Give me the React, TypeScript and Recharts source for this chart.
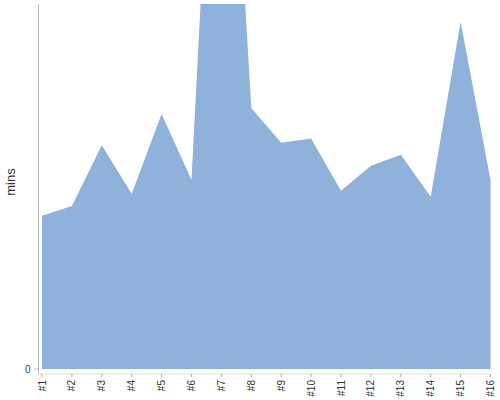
import { AreaChart, Area, XAxis, YAxis } from 'recharts'

const labels = ['#1', '#2', '#3', '#4', '#5', '#6', '#7', '#8', '#9', '#10', '#11', '#12', '#13', '#14', '#15', '#16']
const mins = [25.2, 26.8, 36.8, 28.8, 41.9, 31.1, 126.4, 42.9, 37.2, 37.9, 29.3, 33.4, 35.2, 28.3, 57.1, 31.1]
const yTicks = [0]

const data = labels.map((name, i) => ({ name, mins: mins[i] }))

const font = '"Liberation Sans", Arial, sans-serif'

// eslint-disable-next-line @typescript-eslint/no-explicit-any
function RotatedTick(props: any) {
  const { x, y, payload } = props
  const ty = y + 1
  return (
    <text
      x={x}
      y={ty}
      dy="0.35em"
      transform={`rotate(-90, ${x}, ${ty})`}
      textAnchor="end"
      fontSize={10}
      fontFamily={font}
      fill="#333"
    >
      {payload.value}
    </text>
  )
}

function MinsLabel() {
  return (
    <text
      x={15}
      y={182}
      transform="rotate(-90, 15, 182)"
      textAnchor="middle"
      fontSize={13}
      fontFamily={font}
      fill="#333"
    >
      mins
    </text>
  )
}

export default function App() {
  return (
    <div style={{ position: 'absolute', left: 0, top: 0 }}>
      <AreaChart width={500} height={400} data={data} margin={{ top: 4, right: 9.5, left: 0, bottom: 0 }}>
        <XAxis
          dataKey="name"
          height={26}
          interval={0}
          padding={{ left: 3.5, right: 0 }}
          axisLine={{ stroke: '#ddd' }}
          tickLine={{ stroke: '#aaa' }}
          tickSize={3}
          tick={<RotatedTick />}
        />
        <YAxis
          width={38.5}
          domain={[0, 60]}
          ticks={yTicks}
          allowDataOverflow
          padding={{ top: 0, bottom: 5 }}
          axisLine={{ stroke: '#bbb' }}
          tickLine={{ stroke: '#bbb' }}
          tickSize={4}
          tickMargin={4}
          tick={{ fontSize: 10, fill: '#444', fontFamily: font }}
          label={<MinsLabel />}
        />
        <Area
          type="linear"
          dataKey="mins"
          stroke="none"
          fill="#8FB2DB"
          fillOpacity={1}
          isAnimationActive={false}
        />
      </AreaChart>
    </div>
  )
}
